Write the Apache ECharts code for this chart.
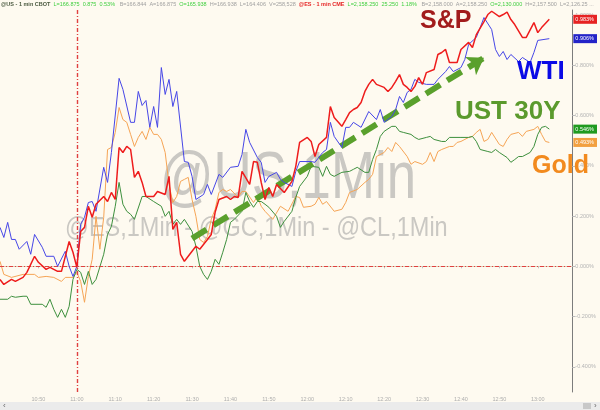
<!DOCTYPE html>
<html><head><meta charset="utf-8">
<script src="https://cdn.jsdelivr.net/npm/echarts@6/dist/echarts.min.js"></script>
<style>html,body{margin:0;padding:0;background:#fefaf0}#c{width:600px;height:410px}</style>
</head><body><div id="c"></div>
<script>
// ---- data (percent change, 1-min bars) ----
const xStart = '10:40', xEnd = '13:09';
const xTickLabels = ['10:50','11:00','11:10','11:20','11:30','11:40','11:50','12:00','12:10','12:20','12:30','12:40','12:50','13:00'];
const yTickValues = [-0.4,-0.2,0,0.2,0.4,0.6,0.8,1.0];
const yMin = -0.5, yMax = 1.02;
const sessionMark = '11:00';
const arrowFrom = ['11:30', 0.111];
const arrowTo = ['12:46', 0.83];
const seriesNames = ['S&P','WTI','UST 30Y','Gold'];

const spx = [['10:40',-0.052],['10:41',-0.072],['10:43',-0.052],['10:44',-0.060],['10:46',-0.044],['10:47',-0.024],['10:49',0.040],['10:50',0.016],['10:52',-0.012],['10:53',-0.004],['10:55',-0.020],['10:56',-0.020],['10:58',0.099],['10:59',0.056],['11:00',-0.004],['11:01',0.139],['11:02',0.155],['11:03',0.239],['11:04',0.195],['11:05',0.247],['11:07',0.278],['11:08',0.258],['11:09',0.294],['11:10',0.266],['11:11',0.473],['11:12',0.453],['11:13',0.477],['11:14',0.465],['11:15',0.354],['11:16',0.378],['11:17',0.334],['11:18',0.278],['11:20',0.278],['11:21',0.298],['11:23',0.286],['11:24',0.358],['11:25',0.147],['11:26',0.175],['11:27',0.048],['11:28',0.020],['11:30',0.060],['11:31',0.080],['11:32',0.068],['11:34',0.107],['11:35',0.127],['11:36',0.215],['11:37',0.266],['11:39',0.278],['11:40',0.266],['11:41',0.278],['11:42',0.274],['11:43',0.378],['11:45',0.326],['11:46',0.417],['11:47',0.414],['11:48',0.334],['11:49',0.266],['11:50',0.314],['11:51',0.278],['11:52',0.326],['11:54',0.294],['11:56',0.338],['11:57',0.398],['11:58',0.493],['12:00',0.513],['12:01',0.497],['12:02',0.437],['12:03',0.485],['12:05',0.513],['12:06',0.636],['12:07',0.592],['12:09',0.557],['12:10',0.584],['12:11',0.612],['12:12',0.624],['12:13',0.632],['12:14',0.652],['12:15',0.696],['12:16',0.724],['12:17',0.744],['12:18',0.724],['12:20',0.712],['12:21',0.696],['12:22',0.712],['12:23',0.736],['12:24',0.763],['12:25',0.724],['12:26',0.712],['12:27',0.696],['12:28',0.716],['12:29',0.751],['12:30',0.724],['12:31',0.771],['12:33',0.783],['12:34',0.843],['12:35',0.851],['12:36',0.863],['12:37',0.811],['12:39',0.811],['12:40',0.863],['12:42',0.891],['12:43',0.871],['12:44',0.922],['12:46',0.974],['12:47',1.002],['12:48',1.015],['12:50',0.994],['12:51',1.002],['12:52',1.012],['12:53',0.982],['12:54',0.962],['12:56',0.911],['12:57',0.911],['12:59',0.970],['13:00',0.930],['13:01',0.950],['13:03',0.983]];

const wti = [['10:40',0.155],['10:41',0.115],['10:42',0.175],['10:43',0.107],['10:44',0.107],['10:45',0.068],['10:47',0.099],['10:48',0.048],['10:49',0.127],['10:51',0.076],['10:52',0.040],['10:54',0.040],['10:55',0.000],['10:57',0.060],['10:58',0.000],['10:59',-0.040],['11:00',0.000],['11:01',0.167],['11:02',0.195],['11:03',0.254],['11:04',0.258],['11:05',0.219],['11:07',0.394],['11:08',0.334],['11:09',0.453],['11:11',0.748],['11:12',0.704],['11:14',0.573],['11:15',0.573],['11:16',0.696],['11:17',0.640],['11:18',0.660],['11:19',0.553],['11:20',0.636],['11:21',0.553],['11:22',0.791],['11:23',0.684],['11:24',0.744],['11:25',0.636],['11:26',0.696],['11:28',0.417],['11:29',0.414],['11:30',0.358],['11:31',0.266],['11:33',0.286],['11:34',0.326],['11:35',0.286],['11:37',0.366],['11:38',0.354],['11:40',0.394],['11:42',0.398],['11:43',0.445],['11:44',0.545],['11:45',0.493],['11:47',0.433],['11:48',0.414],['11:49',0.334],['11:50',0.358],['11:52',0.374],['11:53',0.346],['11:54',0.334],['11:56',0.318],['11:57',0.378],['11:58',0.417],['12:01',0.417],['12:02',0.414],['12:04',0.453],['12:05',0.465],['12:06',0.573],['12:07',0.517],['12:09',0.473],['12:10',0.553],['12:11',0.553],['12:12',0.573],['12:14',0.553],['12:16',0.616],['12:18',0.584],['12:19',0.624],['12:20',0.573],['12:22',0.596],['12:23',0.624],['12:24',0.676],['12:25',0.652],['12:26',0.692],['12:27',0.704],['12:28',0.744],['12:29',0.732],['12:31',0.724],['12:33',0.724],['12:34',0.744],['12:36',0.775],['12:37',0.795],['12:38',0.775],['12:40',0.791],['12:41',0.823],['12:42',0.883],['12:44',0.911],['12:45',0.950],['12:46',0.990],['12:48',0.942],['12:49',0.863],['12:50',0.835],['12:51',0.855],['12:52',0.823],['12:53',0.843],['12:55',0.815],['12:56',0.831],['12:58',0.811],['12:59',0.851],['13:00',0.899],['13:03',0.906]];

const ust = [['10:40',-0.131],['10:42',-0.131],['10:43',-0.119],['10:44',-0.123],['10:46',-0.119],['10:47',-0.119],['10:48',-0.151],['10:51',-0.151],['10:52',-0.163],['10:53',-0.131],['10:54',-0.171],['10:55',-0.203],['10:56',-0.171],['10:57',-0.203],['10:58',-0.159],['10:59',-0.052],['11:00',-0.012],['11:01',-0.024],['11:02',-0.072],['11:03',-0.020],['11:04',-0.072],['11:05',-0.052],['11:07',0.048],['11:08',0.127],['11:09',0.159],['11:10',0.239],['11:11',0.334],['11:12',0.247],['11:13',0.219],['11:14',0.207],['11:15',0.187],['11:17',0.278],['11:18',0.278],['11:20',0.258],['11:22',0.239],['11:23',0.199],['11:24',0.219],['11:25',0.167],['11:26',0.187],['11:27',0.167],['11:28',0.187],['11:30',0.139],['11:31',0.080],['11:32',0.000],['11:33',-0.032],['11:34',-0.052],['11:35',-0.020],['11:36',0.028],['11:37',0.008],['11:38',0.056],['11:39',0.107],['11:40',0.175],['11:41',0.187],['11:43',0.219],['11:44',0.294],['11:45',0.258],['11:46',0.235],['11:47',0.258],['11:48',0.258],['11:49',0.247],['11:50',0.235],['11:52',0.199],['11:53',0.155],['11:54',0.179],['11:56',0.219],['11:57',0.274],['11:58',0.318],['12:00',0.358],['12:01',0.398],['12:03',0.394],['12:04',0.358],['12:05',0.398],['12:06',0.366],['12:07',0.358],['12:09',0.374],['12:11',0.378],['12:12',0.386],['12:13',0.394],['12:15',0.374],['12:16',0.374],['12:17',0.425],['12:18',0.465],['12:19',0.517],['12:20',0.537],['12:22',0.557],['12:23',0.557],['12:24',0.537],['12:25',0.533],['12:27',0.525],['12:28',0.513],['12:29',0.505],['12:31',0.513],['12:32',0.517],['12:33',0.505],['12:35',0.497],['12:36',0.497],['12:37',0.513],['12:40',0.513],['12:42',0.513],['12:43',0.517],['12:44',0.497],['12:45',0.465],['12:47',0.457],['12:48',0.453],['12:49',0.465],['12:50',0.453],['12:52',0.433],['12:53',0.414],['12:54',0.425],['12:55',0.437],['12:56',0.437],['12:58',0.453],['12:59',0.477],['13:00',0.525],['13:01',0.553],['13:02',0.557],['13:03',0.546]];

const gold = [['10:40',0.020],['10:41',-0.032],['10:43',-0.044],['10:46',-0.032],['10:49',-0.032],['10:50',-0.044],['10:52',-0.040],['10:54',-0.044],['10:56',-0.060],['10:57',-0.044],['10:59',-0.044],['11:00',-0.024],['11:01',-0.060],['11:02',-0.143],['11:03',-0.040],['11:04',0.028],['11:05',0.199],['11:06',0.068],['11:07',0.195],['11:08',0.465],['11:09',0.473],['11:10',0.533],['11:11',0.632],['11:12',0.584],['11:13',0.573],['11:14',0.525],['11:15',0.477],['11:16',0.513],['11:17',0.537],['11:18',0.505],['11:19',0.553],['11:20',0.525],['11:21',0.525],['11:22',0.505],['11:23',0.453],['11:24',0.326],['11:25',0.254],['11:26',0.278],['11:27',0.338],['11:28',0.346],['11:29',0.354],['11:30',0.266],['11:31',0.199],['11:32',0.107],['11:33',0.095],['11:34',0.119],['11:35',0.187],['11:36',0.227],['11:37',0.294],['11:38',0.306],['11:39',0.298],['11:40',0.306],['11:42',0.274],['11:43',0.298],['11:44',0.298],['11:46',0.254],['11:47',0.278],['11:48',0.239],['11:49',0.219],['11:51',0.187],['11:53',0.239],['11:55',0.219],['11:57',0.278],['11:58',0.274],['11:59',0.235],['12:01',0.239],['12:02',0.247],['12:03',0.274],['12:04',0.247],['12:05',0.258],['12:07',0.219],['12:09',0.227],['12:10',0.254],['12:11',0.294],['12:13',0.306],['12:15',0.334],['12:16',0.346],['12:17',0.366],['12:18',0.437],['12:20',0.453],['12:21',0.473],['12:22',0.457],['12:23',0.493],['12:24',0.477],['12:26',0.437],['12:27',0.406],['12:28',0.417],['12:30',0.406],['12:31',0.417],['12:32',0.453],['12:33',0.417],['12:34',0.457],['12:35',0.465],['12:37',0.477],['12:38',0.477],['12:39',0.493],['12:40',0.497],['12:42',0.513],['12:43',0.517],['12:44',0.533],['12:45',0.545],['12:46',0.497],['12:47',0.505],['12:48',0.533],['12:50',0.485],['12:51',0.477],['12:52',0.505],['12:53',0.525],['12:55',0.533],['12:56',0.517],['12:57',0.537],['12:59',0.545],['13:00',0.557],['13:01',0.525],['13:02',0.497],['13:03',0.493]];

// ---- helpers ----
function toMin(t){ const p = t.split(':').map(Number); return p[0]*60 + p[1]; }
function fmtMin(m){ const h = Math.floor(m/60), mm = Math.round(m%60); return h + ':' + (mm<10?'0':'') + mm; }
function pts(arr){ return arr.map(p => [toMin(p[0]), p[1]]); }

const colors = {spx:'#ee1c1c', wti:'#4646e6', ust:'#3d8f3d', gold:'#f5a455'};
const allSeries = [spx, wti, ust, gold];
const badgeColors = ['#e62222', '#2323c8', '#1f9a1f', '#f2a040'];
const lastVals = allSeries.map(s => s[s.length-1][1]);
const markColor = '#e04040';
const markLineStyle = {color:markColor, width:1, type:[4,2,1,2], opacity:1};
const markLineStyleV = {color:markColor, width:1.4, type:[4,2,1,2], opacity:1};

const chart = echarts.init(document.getElementById('c'), null, {renderer:'canvas'});
const FONT = 'Liberation Sans, Arial, sans-serif';

const rich = {};
badgeColors.forEach((c,i) => { rich['k'+i] = {backgroundColor:c, color:'#fff', fontSize:5.5, fontFamily:FONT, padding:[1.5,3,1.5,2]}; });

const wmStyle = 'rgba(150,150,150,0.5)';

const option = {
  backgroundColor: '#fefaf0',
  animation: false,
  grid: {left:0, right:25, top:10, bottom:18, containLabel:false},
  xAxis: {
    type:'value', min: toMin(xStart), max: toMin(xEnd),
    splitLine:{show:false},
    axisLine:{show:true, lineStyle:{color:'#d9cfb6', width:1}},
    axisTick:{show:true, customValues: xTickLabels.map(toMin), length:2, lineStyle:{color:'#c0c0c0'}},
    axisLabel:{customValues: xTickLabels.map(toMin), formatter: v => fmtMin(v), color:'#adadad', fontSize:5.5, fontFamily:FONT, margin:4}
  },
  yAxis: [
    {
      type:'value', position:'right', min:yMin, max:yMax,
      splitLine:{show:false},
      axisLine:{show:true, lineStyle:{color:'#7c7c7c', width:1}},
      axisTick:{show:true, customValues: yTickValues, length:3, lineStyle:{color:'#bdbdbd'}},
      axisLabel:{customValues: yTickValues, formatter: v => v.toFixed(3) + '%', color:'#b4b4b4', fontSize:5.5, fontFamily:FONT, margin:3}
    },
    {
      type:'value', position:'right', min:yMin, max:yMax,
      splitLine:{show:false}, axisLine:{show:false}, axisTick:{show:false},
      axisLabel:{customValues: lastVals, margin:1, rich: rich,
        formatter: v => { let i = 0, best = 1e9; lastVals.forEach((lv,k)=>{ const d=Math.abs(lv-v); if(d<best){best=d;i=k;} }); return '{k'+i+'|' + lastVals[i].toFixed(3) + '%}'; } }
    }
  ],
  graphic: [
    {type:'text', x:160, y:147, scaleX:0.8, z:0, silent:true, style:{text:'@US,1Min', font:'66px '+FONT, fill:wmStyle}},
    {type:'text', x:65, y:214, scaleX:0.84, z:0, silent:true, style:{text:'@ES,1Min - @GC,1Min - @CL,1Min', font:'28px '+FONT, fill:wmStyle}},
    {type:'text', left:420, top:9, z:100, style:{text:seriesNames[0], font:'bold 25px '+FONT, fill:'#a21c1c'}},
    {type:'text', left:517, top:59, z:100, style:{text:seriesNames[1], font:'bold 26px '+FONT, fill:'#0a0ae6'}},
    {type:'text', left:455, top:99, z:100, style:{text:seriesNames[2], font:'bold 26px '+FONT, fill:'#5b9a2d'}},
    {type:'text', left:532, top:154, z:100, style:{text:seriesNames[3], font:'bold 25px '+FONT, fill:'#f28a1e'}},
    {type:'text', left:1, top:1, z:100, style:{
      text:'{a|@US - 1 min CBOT}  {g|L=166.875  0.875  0.53%}   {n|B=166.844  A=166.875}  {g|O=165.938}  {n|H=166.938  L=164.406  V=258,528}  {r|@ES - 1 min CME}  {g|L=2,158.250  25.250  1.18%}   {n|B=2,158.000  A=2,158.250}  {g|O=2,130.000}  {n|H=2,157.500  L=2,126.25 ...}',
      font:'5.5px '+FONT,
      rich:{
        a:{fill:'#4b5a40', fontWeight:'bold', fontSize:5.5, fontFamily:FONT},
        g:{fill:'#3fcf3f', fontSize:5.5, fontFamily:FONT},
        n:{fill:'#a0a0a0', fontSize:5.5, fontFamily:FONT},
        r:{fill:'#e52424', fontWeight:'bold', fontSize:5.5, fontFamily:FONT}
      }}},
    {type:'rect', left:0, top:402, z:100, shape:{width:600, height:8}, style:{fill:'#ebebeb'}},
    {type:'text', left:3, top:402, z:101, style:{text:'‹', font:'8px '+FONT, fill:'#666'}},
    {type:'rect', left:583, top:403, z:101, shape:{width:8, height:6}, style:{fill:'#c8c8c8'}},
    {type:'text', left:594, top:402, z:101, style:{text:'›', font:'8px '+FONT, fill:'#666'}}
  ],
  series: [
    {name:seriesNames[3], type:'line', data: pts(gold), symbol:'none', lineStyle:{color:colors.gold, width:1}, z:3,
      markLine:{silent:true, symbol:'none', label:{show:false}, lineStyle:markLineStyle,
        data:[
          [{coord:[toMin(sessionMark), yMin], lineStyle:markLineStyleV}, {coord:[toMin(sessionMark), yMax]}],
          [{coord:[toMin(xStart), 0], lineStyle:markLineStyle}, {coord:[toMin(xEnd), 0]}]
        ]}},
    {name:seriesNames[2], type:'line', data: pts(ust), symbol:'none', lineStyle:{color:colors.ust, width:1}, z:4},
    {name:seriesNames[1], type:'line', data: pts(wti), symbol:'none', lineStyle:{color:colors.wti, width:1}, z:5},
    {name:seriesNames[0], type:'line', data: pts(spx), symbol:'none', lineStyle:{color:colors.spx, width:1.5}, z:6,
      markLine:{silent:true, symbol:['none','arrow'], symbolSize:16, label:{show:false},
        lineStyle:{color:'#5aa02c', width:6, type:[17,8]},
        data:[[{coord:[toMin(arrowFrom[0]), arrowFrom[1]]}, {coord:[toMin(arrowTo[0]), arrowTo[1]]}]]}}
  ]
};
chart.setOption(option);
</script></body></html>
